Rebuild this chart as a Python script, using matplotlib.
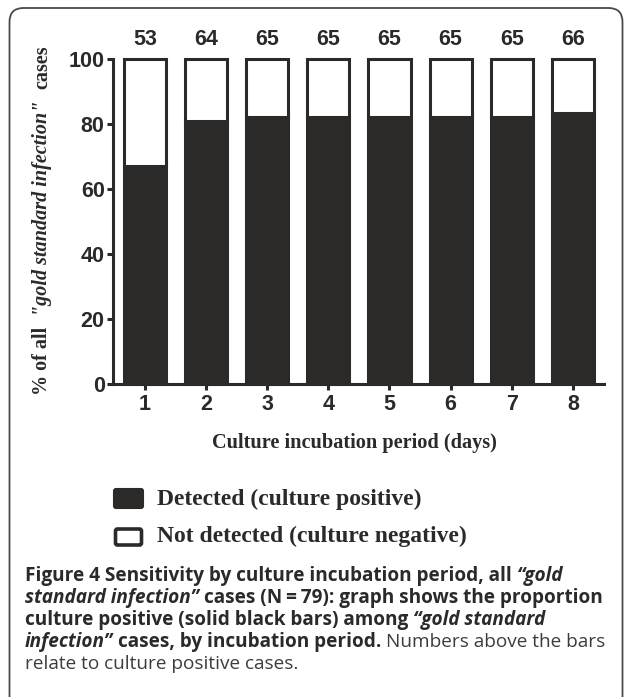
import matplotlib
matplotlib.use('Agg')
import matplotlib.pyplot as plt
from matplotlib.patches import FancyBboxPatch
from matplotlib.transforms import IdentityTransform

# ---- data ----
days = [1, 2, 3, 4, 5, 6, 7, 8]
positive_counts = [53, 64, 65, 65, 65, 65, 65, 66]
pct_detected = [67.1, 81.0, 82.3, 82.3, 82.3, 82.3, 82.3, 83.5]
y_ticks = [0, 20, 40, 60, 80, 100]
legend_labels = ["Detected (culture positive)", "Not detected (culture negative)"]
x_label = "Culture incubation period (days)"

DARK = '#2b2a28'
TXT = '#2a2a2a'
W, H = 627, 697
fig = plt.figure(figsize=(W / 100, H / 100), dpi=100)
renderer = fig.canvas.get_renderer()
ID = IdentityTransform()

# frame
fig.patches.append(FancyBboxPatch((9.5, -30), 613, 719, boxstyle='round,pad=0,rounding_size=14',
                                  transform=ID, facecolor='none', edgecolor='#4a4a4a', linewidth=1.3))

ax_left, ax_right, ax_top, ax_bot = 113, 604, 59, 384
ax = fig.add_axes([ax_left / W, 1 - ax_bot / H, (ax_right - ax_left) / W, (ax_bot - ax_top) / H])
pct_not = [100 - p for p in pct_detected]
ax.bar(days, pct_detected, width=0.69, color=DARK, edgecolor=DARK, linewidth=2.2, clip_on=False, zorder=3)
ax.bar(days, pct_not, bottom=pct_detected, width=0.69, color='white', edgecolor=DARK,
       linewidth=2.2, clip_on=False, zorder=3)
for d, c in zip(days, positive_counts):
    ax.text(d, 104.3, str(c), ha='center', va='baseline', fontsize=15.5, fontweight='bold',
            family='Liberation Sans', color=TXT, clip_on=False)

ax.set_xlim(0.476, 8.51)
ax.set_ylim(0, 100)
ax.set_yticks(y_ticks)
ax.set_xticks(days)
for s in ['top', 'right']:
    ax.spines[s].set_visible(False)
for s in ['left', 'bottom']:
    ax.spines[s].set_linewidth(2.2)
    ax.spines[s].set_color(DARK)
ax.tick_params(axis='both', direction='out', length=4, width=2.2, color=DARK, labelcolor=TXT)
ax.tick_params(axis='y', pad=2)
ax.tick_params(axis='x', pad=3)
for lab in ax.get_xticklabels() + ax.get_yticklabels():
    lab.set_fontfamily('Liberation Sans')
    lab.set_fontweight('bold')
    lab.set_fontsize(15.5)

# x label
fig.text(354 / W, 1 - 443 / H, x_label, ha='center', va='center',
         family='Liberation Serif', fontweight='bold', fontsize=14.6, color=TXT)

# y label (mixed styles, stacked bottom -> top)
ysegs = [("% of all", 'normal', 10), ('"gold standard infection"', 'italic', 12), ("cases", 'normal', 0)]
fs_y = 14.5
parts = []
for txt, style, gap in ysegs:
    t = fig.text(0, 0, txt, rotation=90, rotation_mode='anchor', ha='left', va='center',
                 family='Liberation Serif', fontweight='bold', fontstyle=style, fontsize=fs_y, color=TXT)
    h = t.get_window_extent(renderer).height
    parts.append((t, h, gap))
total = sum(h + g for _, h, g in parts)
ycur = (H - 220) - total / 2
for t, h, g in parts:
    t.set_position((42 / W, ycur / H))
    ycur += h + g

# legend (manual)
fig.patches.append(FancyBboxPatch((114, H - 508), 29, 19, boxstyle='round,pad=0,rounding_size=2',
                                  transform=ID, facecolor=DARK, edgecolor=DARK, linewidth=1.5))
fig.patches.append(FancyBboxPatch((115.5, H - 545), 26, 16, boxstyle='round,pad=0,rounding_size=2',
                                  transform=ID, facecolor='white', edgecolor=DARK, linewidth=2.6))
for lbl, yc in zip(legend_labels, [499, 536]):
    fig.text(157 / W, 1 - yc / H, lbl, ha='left', va='center', family='Liberation Serif',
             fontweight='bold', fontsize=17, color=TXT)

# caption
B, I, R = ('bold', 'normal', TXT), ('bold', 'italic', TXT), ('normal', 'normal', '#3c3c3c')
cap_lines = [
    [("Figure 4 Sensitivity by culture incubation period, all", B), ("\u201cgold", I)],
    [("standard infection\u201d", I), ("cases (N\u2009=\u200979): graph shows the proportion", B)],
    [("culture positive (solid black bars) among", B), ("\u201cgold standard", I)],
    [("infection\u201d", I), ("cases, by incubation period.", B), ("Numbers above the bars", R)],
    [("relate to culture positive cases.", R)],
]
CF = ['Open Sans', 'DejaVu Sans']

def seg_width(txt, st, fs):
    t = fig.text(0, 0, txt, fontsize=fs, fontweight=st[0], fontstyle=st[1], family=CF)
    w = t.get_window_extent(renderer).width
    t.remove()
    return w

def line_width(line, fs):
    sp = fs * 0.26 * 100 / 72
    return sum(seg_width(tx, st, fs) for tx, st in line) + sp * (len(line) - 1)

fs_c = 12
target = 602 - 25
fs_c = fs_c * target / line_width(cap_lines[1], fs_c)

base0, step = 581, 22
for i, line in enumerate(cap_lines):
    x = 25
    sp = fs_c * 0.26 * 100 / 72
    for tx, st in line:
        t = fig.text(x / W, 1 - (base0 + i * step) / H, tx, ha='left', va='baseline', fontsize=fs_c,
                     fontweight=st[0], fontstyle=st[1], family=CF, color=st[2])
        x += t.get_window_extent(renderer).width + sp

fig.savefig('out.png', dpi=100)
